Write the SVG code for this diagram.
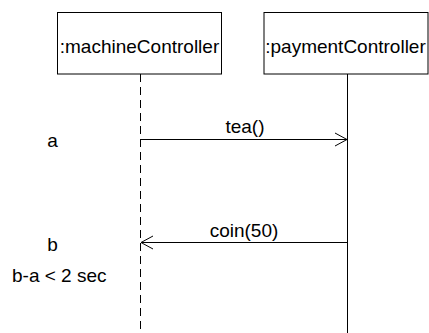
<svg xmlns="http://www.w3.org/2000/svg" width="429" height="333" viewBox="0 0 429 333">
  <style>
    .box { fill: #ffffff; stroke: #000000; stroke-width: 1; }
    .lbl { font-family: "Liberation Sans", Arial, sans-serif; font-size: 19px; fill: #000000; }
    .mid { text-anchor: middle; }
    .life { stroke: #000000; stroke-width: 1; fill: none; }
    .dash { stroke-dasharray: 8 5; }
    .msg { stroke: #000000; stroke-width: 1; fill: none; }
    .head { stroke: #000000; stroke-width: 1; fill: none; }
  </style>
  <defs>
    <clipPath id="clipMachine"><rect x="57.5" y="12.5" width="164" height="61.5"/></clipPath>
    <clipPath id="clipPayment"><rect x="264" y="12.5" width="165" height="61.5"/></clipPath>
  </defs>
  <rect width="429" height="333" fill="#ffffff"/>

  <!-- lifelines -->
  <g id="lifelines">
    <line class="life dash" x1="140.5" y1="74" x2="140.5" y2="333"/>
    <line class="life" x1="347.5" y1="74" x2="347.5" y2="333"/>
  </g>

  <g id="machineController">
    <rect class="box" x="57.5" y="12.5" width="164" height="61.5"/>
    <text class="lbl mid" x="139.5" y="52.5" clip-path="url(#clipMachine)">:machineController</text>
  </g>

  <g id="paymentController">
    <rect class="box" x="264" y="12.5" width="164" height="61.5"/>
    <text class="lbl mid" x="345.5" y="52.5" clip-path="url(#clipPayment)">:paymentController</text>
  </g>

  <!-- messages -->
  <g id="connectors">
    <line class="msg" x1="140.5" y1="139.5" x2="347" y2="139.5"/>
    <polyline class="head" points="335,133 347,139.5 335,146"/>
    <text class="lbl mid" x="245" y="132.5">tea()</text>

    <line class="msg" x1="141" y1="242.5" x2="347.5" y2="242.5"/>
    <polyline class="head" points="153,236 141,242.5 153,249"/>
    <text class="lbl mid" x="244" y="236.5">coin(50)</text>
  </g>

  <!-- timing marks and constraint -->
  <g id="timing">
    <text class="lbl mid" x="52.5" y="146.5">a</text>
    <text class="lbl mid" x="52.5" y="250.5">b</text>
    <text class="lbl" x="12" y="281.5">b-a &lt; 2 sec</text>
  </g>
</svg>
